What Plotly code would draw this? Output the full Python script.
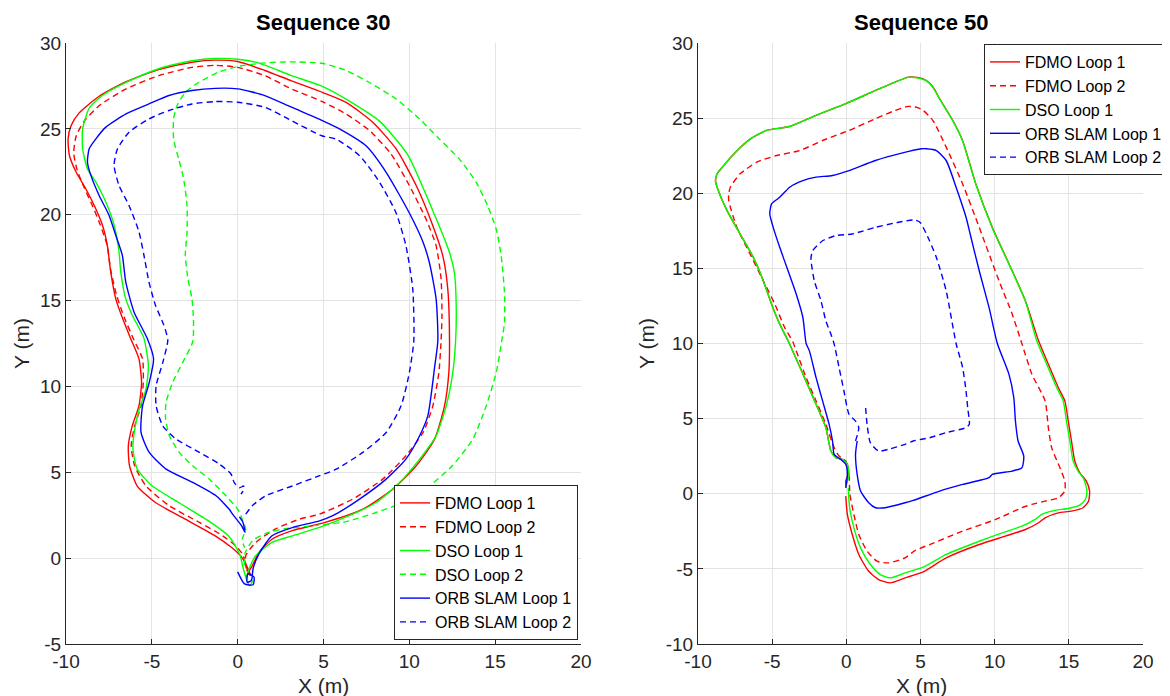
import plotly.graph_objects as go

# ---------------- Sequence 30 ----------------
s30_fdmo1_x = [0.6, 0.85, 1.24, 2.0, 3.18, 5.0, 7.29, 9.04, 10.4, 11.47, 12.05, 12.3, 12.34, 12.24, 11.95, 11.37, 10.4, 9.23, 7.87, 6.32, 5.0, 3.13, 1.58, 0.0, -1.3, -2.66, -4.6, -6.5, -8.07, -9.23, -9.7, -9.88, -9.8, -9.42, -8.84, -8.36, -7.88, -7.59, -7.4, -7.1, -6.7, -6.24, -5.75, -5.6, -5.75, -6.14, -6.37, -6.3, -5.85, -4.79, -3.05, -1.31, -0.35, 0.2, 0.5, 0.75, 0.6]
s30_fdmo1_y = [-0.9, -0.45, 0.33, 1.1, 1.6, 2.05, 2.85, 4.02, 5.38, 6.93, 8.87, 10.8, 12.76, 15.67, 17.6, 19.36, 21.7, 23.83, 25.38, 26.54, 27.1, 27.8, 28.4, 28.92, 29.0, 28.88, 28.45, 27.75, 26.9, 25.93, 25.2, 24.4, 23.45, 22.5, 21.5, 20.55, 19.4, 18.2, 16.7, 15.1, 13.95, 12.8, 11.6, 10.23, 8.87, 7.7, 6.54, 5.38, 4.2, 3.24, 2.27, 1.3, 0.62, 0.1, -0.4, -1.0, -0.9]

s30_fdmo2_x = [0.7, 0.5, 0.47, 1.05, 2.2, 3.6, 4.77, 6.7, 8.45, 9.8, 10.8, 11.37, 11.72, 11.85, 11.9, 11.85, 11.56, 10.97, 10.0, 8.94, 7.68, 6.32, 4.9, 3.13, 1.58, 0.0, -1.3, -2.66, -4.6, -6.5, -8.0, -8.9, -9.4, -9.55, -9.35, -8.95, -8.45, -8.0, -7.6, -7.4, -7.05, -6.6, -6.04, -5.54, -5.5, -5.63, -6.0, -6.2, -6.0, -5.34, -3.98, -2.23, -0.87, -0.12, 0.3, 0.5, 0.7]
s30_fdmo2_y = [-1.0, -0.6, 0.14, 0.91, 1.7, 2.27, 2.56, 3.44, 4.6, 5.96, 7.32, 8.87, 10.8, 12.66, 14.1, 16.25, 18.2, 19.75, 21.7, 23.53, 24.9, 25.86, 26.6, 27.33, 28.1, 28.58, 28.7, 28.58, 28.1, 27.33, 26.4, 25.5, 24.6, 23.6, 22.6, 21.6, 20.5, 19.4, 18.2, 16.8, 15.3, 14.0, 12.7, 11.6, 10.23, 8.87, 7.7, 6.54, 5.38, 4.2, 3.05, 2.08, 1.3, 0.72, 0.2, -0.5, -1.0]

s30_dso1_x = [0.9, 0.7, 0.5, 0.66, 1.05, 2.0, 3.18, 4.77, 6.5, 8.07, 9.43, 10.6, 11.56, 12.15, 12.53, 12.7, 12.73, 12.63, 12.34, 11.17, 9.9, 8.26, 6.7, 5.0, 3.13, 1.2, 0.0, -1.3, -2.66, -4.6, -6.5, -7.88, -8.65, -9.03, -9.03, -8.75, -8.26, -7.68, -7.2, -6.91, -6.81, -6.52, -6.14, -5.46, -5.2, -5.34, -5.73, -6.0, -6.1, -5.85, -4.97, -3.44, -1.7, -0.54, -0.14, 0.15, 0.3, 0.5]
s30_dso1_y = [-1.3, -1.6, -1.2, -0.64, 0.14, 0.92, 1.3, 1.79, 2.47, 3.24, 4.4, 5.77, 7.13, 8.87, 10.8, 12.76, 14.7, 16.6, 17.8, 20.7, 23.5, 25.45, 26.5, 27.45, 28.1, 28.84, 29.05, 29.1, 28.97, 28.5, 27.7, 26.94, 26.2, 25.0, 23.84, 22.67, 21.9, 20.74, 19.4, 17.83, 16.67, 15.1, 14.15, 12.8, 11.2, 9.84, 8.68, 7.5, 6.35, 5.18, 4.2, 3.24, 2.17, 1.3, 0.72, 0.14, -0.5, -1.2]

s30_dso2_x = [0.4, 0.43, 0.9, 1.8, 2.64, 4.0, 6.2, 8.07, 9.62, 11.17, 12.5, 13.7, 14.48, 15.06, 15.4, 15.54, 15.54, 15.35, 15.06, 14.57, 13.9, 12.92, 11.76, 10.6, 9.23, 7.68, 6.32, 4.9, 3.13, 1.58, 0.04, -1.12, -2.28, -3.05, -3.53, -3.73, -3.73, -3.44, -3.15, -2.95, -2.95, -3.05, -2.9, -2.66, -2.57, -2.62, -3.2, -3.79, -4.17, -4.2, -3.98, -3.4, -2.62, -1.65, -0.68, 0.0, 0.27, 0.47, 0.27, 0.4]
s30_dso2_y = [-0.4, 0.3, 1.05, 1.5, 1.7, 1.85, 2.1, 2.66, 3.24, 4.2, 5.38, 6.93, 8.87, 10.8, 12.76, 13.7, 15.48, 17.6, 19.16, 20.5, 21.88, 23.24, 24.4, 25.57, 26.74, 27.7, 28.4, 28.82, 28.9, 28.84, 28.64, 28.3, 27.7, 27.13, 26.36, 25.6, 24.4, 23.26, 22.1, 20.54, 19.0, 17.64, 16.28, 15.1, 13.76, 12.6, 11.4, 10.23, 9.07, 8.1, 7.13, 6.16, 5.38, 4.6, 3.63, 2.85, 2.27, 1.69, 1.1, 0.6]

s30_orb1_x = [0.0, 0.4, 0.9, 0.95, 0.6, 0.55, 0.8, 0.9, 1.24, 2.0, 3.18, 4.77, 5.54, 7.1, 8.65, 9.8, 10.6, 11.08, 11.47, 11.66, 11.56, 11.17, 10.8, 10.0, 8.65, 7.49, 5.93, 4.9, 3.13, 1.58, 0.0, -1.3, -2.66, -4.0, -5.17, -6.5, -7.68, -8.26, -8.65, -8.75, -8.55, -8.07, -7.49, -7.1, -6.72, -6.52, -6.04, -5.27, -4.9, -5.15, -5.54, -5.63, -5.15, -4.17, -2.62, -1.26, -0.49, -0.3, 0.23, 0.43, 0.3, 0.1]
s30_orb1_y = [-0.8, -1.5, -1.55, -1.1, -0.9, -1.4, -1.3, -0.6, 0.25, 1.3, 1.78, 2.17, 2.47, 3.44, 4.6, 5.77, 7.13, 8.3, 11.1, 12.66, 15.1, 17.2, 18.4, 20.1, 22.47, 24.0, 25.0, 25.5, 26.26, 26.94, 27.33, 27.36, 27.23, 26.94, 26.45, 25.87, 25.1, 24.42, 23.84, 23.06, 22.29, 21.12, 19.96, 18.8, 17.64, 16.09, 14.34, 12.8, 11.6, 10.23, 8.87, 7.32, 6.16, 5.18, 4.41, 3.63, 2.85, 2.56, 1.88, 1.5, 2.1, 2.4]

s30_orb2_x = [0.47, 0.85, 1.63, 3.18, 4.77, 5.74, 7.29, 8.65, 9.52, 10.0, 10.26, 10.2, 9.8, 9.23, 8.26, 7.1, 5.74, 4.9, 3.13, 1.58, 0.0, -1.3, -2.66, -4.0, -5.17, -6.33, -7.0, -7.2, -6.91, -6.33, -5.75, -5.46, -5.17, -4.79, -4.3, -4.07, -4.36, -4.75, -4.75, -4.36, -3.59, -2.23, -1.07, -0.39, -0.2, 0.1, 0.35, 0.3, 0.19]
s30_orb2_y = [2.56, 3.05, 3.63, 4.2, 4.8, 5.18, 6.16, 7.32, 8.87, 10.8, 12.66, 15.67, 18.2, 20.1, 21.9, 23.44, 24.4, 24.6, 25.48, 26.26, 26.55, 26.59, 26.45, 26.07, 25.58, 24.8, 23.84, 22.87, 21.7, 20.54, 19.0, 17.64, 16.09, 14.73, 13.57, 12.7, 11.4, 10.04, 8.87, 7.7, 6.93, 6.16, 5.48, 4.9, 4.4, 4.1, 4.2, 3.9, 3.73]

# ---------------- Sequence 50 ----------------
s50_fdmo1_x = [0.0, -0.04, 0.13, 0.07, -0.27, -0.71, -1.04, -1.38, -2.04, -2.82, -3.93, -4.49, -5.04, -5.6, -6.27, -7.16, -8.04, -8.71, -8.82, -8.71, -8.27, -7.6, -6.49, -5.38, -3.82, -2.04, -0.04, 1.96, 3.29, 4.18, 4.8, 5.4, 5.84, 6.29, 7.18, 7.84, 8.73, 9.84, 11.18, 12.07, 12.96, 13.62, 14.29, 14.73, 14.96, 15.18, 15.4, 15.73, 16.18, 16.4, 16.33, 15.96, 15.18, 14.29, 13.4, 12.96, 12.07, 10.73, 8.96, 6.73, 5.18, 3.96, 2.96, 2.18, 1.51, 0.84, 0.4, 0.07, -0.04]
s50_fdmo1_y = [0.4, 0.84, 1.29, 1.96, 2.29, 2.4, 2.84, 4.4, 5.96, 7.73, 10.18, 11.29, 12.62, 14.18, 15.73, 17.29, 18.84, 20.4, 20.84, 21.3, 21.84, 22.6, 23.6, 24.18, 24.44, 25.18, 25.96, 26.84, 27.4, 27.73, 27.7, 27.5, 27.07, 26.29, 24.84, 23.5, 20.62, 17.73, 14.84, 12.84, 10.18, 8.62, 7.07, 6.18, 4.84, 3.51, 2.18, 1.4, 0.84, 0.18, -0.49, -0.93, -1.16, -1.27, -1.6, -1.93, -2.38, -2.82, -3.38, -4.27, -5.2, -5.6, -5.93, -5.71, -5.16, -4.04, -2.71, -1.38, -0.16]

s50_fdmo2_x = [0.24, 0.18, -0.04, -0.49, -0.82, -1.38, -2.04, -2.71, -3.38, -3.6, -4.16, -4.82, -5.6, -6.49, -7.38, -7.93, -7.93, -7.82, -7.16, -6.04, -4.71, -3.16, -1.6, 0.18, 1.96, 3.29, 4.18, 4.8, 5.18, 5.84, 6.73, 7.84, 8.96, 10.29, 11.18, 11.8, 12.51, 13.4, 13.62, 13.84, 14.4, 14.73, 14.73, 14.29, 13.4, 12.51, 11.84, 10.07, 7.84, 5.62, 4.6, 3.96, 2.84, 2.07, 1.4, 0.84, 0.51, 0.24]
s50_fdmo2_y = [-0.04, 1.29, 2.18, 2.51, 3.07, 4.62, 6.18, 7.73, 9.51, 10.1, 11.07, 12.62, 14.18, 15.96, 17.73, 19.51, 19.96, 20.4, 21.29, 22.07, 22.51, 22.84, 23.51, 24.18, 24.96, 25.51, 25.78, 25.7, 25.51, 24.84, 23.07, 20.62, 17.73, 14.18, 11.96, 10.1, 7.96, 6.18, 4.4, 3.07, 1.73, 0.84, 0.18, -0.27, -0.49, -0.71, -0.93, -1.71, -2.49, -3.38, -3.8, -4.27, -4.6, -4.49, -3.82, -2.71, -1.38, -0.04]

s50_dso1_x = [-0.04, 0.07, 0.18, 0.07, -0.27, -0.71, -1.04, -1.38, -2.04, -2.82, -3.93, -4.49, -5.04, -5.6, -6.27, -7.16, -8.04, -8.71, -8.82, -8.71, -8.27, -7.6, -6.49, -5.38, -3.82, -2.04, -0.04, 1.96, 3.29, 4.18, 4.8, 5.4, 5.84, 6.29, 7.18, 7.84, 8.73, 9.84, 11.18, 12.07, 12.84, 13.51, 14.18, 14.62, 14.84, 15.07, 15.29, 15.62, 16.02, 16.22, 16.11, 15.73, 14.96, 14.07, 13.18, 12.73, 11.84, 10.51, 8.96, 6.73, 5.18, 3.96, 2.96, 2.29, 1.62, 0.96, 0.51, 0.22, 0.13]
s50_dso1_y = [0.4, 0.84, 1.29, 1.96, 2.29, 2.4, 2.84, 4.4, 5.96, 7.73, 10.18, 11.29, 12.62, 14.18, 15.73, 17.29, 18.84, 20.4, 20.84, 21.3, 21.84, 22.6, 23.6, 24.18, 24.44, 25.18, 25.96, 26.84, 27.4, 27.71, 27.68, 27.48, 27.05, 26.27, 24.82, 23.48, 20.6, 17.71, 14.82, 12.82, 10.18, 8.62, 7.07, 6.18, 4.84, 3.51, 2.18, 1.51, 0.96, 0.18, -0.38, -0.76, -0.98, -1.11, -1.38, -1.71, -2.16, -2.6, -3.16, -4.04, -4.89, -5.27, -5.6, -5.38, -4.71, -3.6, -2.27, -0.93, 0.4]

s50_orb1_x = [-0.04, 0.07, -0.04, -0.38, -0.82, -0.93, -1.16, -1.6, -2.04, -2.49, -2.71, -2.93, -3.38, -3.93, -4.49, -4.93, -5.16, -5.04, -4.49, -3.82, -2.93, -2.04, -0.93, 0.18, 1.96, 3.73, 5.07, 5.4, 6.07, 6.73, 7.4, 8.07, 8.4, 8.96, 9.62, 10.18, 10.96, 11.29, 11.4, 11.58, 11.96, 11.84, 11.18, 9.84, 9.62, 7.84, 6.29, 4.51, 3.96, 2.62, 1.96, 1.51, 0.96, 0.73, 0.62, 0.73]
s50_orb1_y = [0.4, 1.29, 1.96, 2.29, 2.62, 3.51, 4.62, 6.18, 7.73, 9.51, 10.0, 11.73, 13.29, 14.84, 16.4, 17.73, 18.62, 19.29, 19.73, 20.4, 20.84, 21.07, 21.18, 21.51, 22.18, 22.67, 22.96, 22.96, 22.84, 22.18, 20.4, 18.4, 17.07, 14.84, 12.4, 10.0, 7.96, 6.4, 4.84, 3.51, 2.51, 1.73, 1.51, 1.29, 1.07, 0.62, 0.18, -0.44, -0.6, -0.93, -0.93, -0.6, 0.18, 1.29, 2.62, 3.51]

s50_orb2_x = [0.62, 0.84, 0.62, 0.18, -0.16, -0.49, -0.82, -1.04, -1.38, -1.71, -2.16, -2.38, -2.38, -2.27, -1.6, -0.71, 0.4, 1.96, 3.51, 4.62, 4.96, 5.4, 6.07, 6.73, 7.4, 7.84, 8.07, 8.18, 8.29, 8.07, 6.73, 5.62, 4.51, 3.96, 2.84, 2.18, 1.62, 1.4, 1.29]
s50_orb2_y = [3.51, 4.4, 4.84, 5.29, 6.84, 8.4, 9.96, 10.62, 11.51, 12.84, 14.18, 15.5, 15.73, 16.18, 16.84, 17.18, 17.29, 17.73, 18.07, 18.22, 18.07, 17.29, 15.73, 13.51, 10.0, 8.4, 6.84, 5.73, 4.62, 4.4, 4.07, 3.73, 3.51, 3.29, 2.96, 2.84, 3.4, 4.62, 5.84]

# axis ticks
x_tick_vals = [-10, -5, 0, 5, 10, 15, 20]
x_tick_text = ["-10", "-5", "0", "5", "10", "15", "20"]
y30_tick_vals = [-5, 0, 5, 10, 15, 20, 25, 30]
y30_tick_text = ["-5", "0", "5", "10", "15", "20", "25", "30"]
y50_tick_vals = [-10, -5, 0, 5, 10, 15, 20, 25, 30]
y50_tick_text = ["-10", "-5", "0", "5", "10", "15", "20", "25", "30"]

RED, GREEN, BLUE = "#ff0000", "#00ff00", "#0000ff"
DASH = "6px,4px"

fig = go.Figure()

def add(x, y, name, color, dash, xa, ya, legend):
    fig.add_trace(go.Scatter(
        x=x, y=y, mode="lines", name=name,
        line=dict(color=color, width=1.4, dash=dash, shape="spline", smoothing=0.6),
        xaxis=xa, yaxis=ya, legend=legend))

add(s30_fdmo1_x, s30_fdmo1_y, "FDMO Loop 1", RED, "solid", "x", "y", "legend")
add(s30_fdmo2_x, s30_fdmo2_y, "FDMO Loop 2", RED, DASH, "x", "y", "legend")
add(s30_dso1_x, s30_dso1_y, "DSO Loop 1", GREEN, "solid", "x", "y", "legend")
add(s30_dso2_x, s30_dso2_y, "DSO Loop 2", GREEN, DASH, "x", "y", "legend")
add(s30_orb1_x, s30_orb1_y, "ORB SLAM Loop 1", BLUE, "solid", "x", "y", "legend")
add(s30_orb2_x, s30_orb2_y, "ORB SLAM Loop 2", BLUE, DASH, "x", "y", "legend")

add(s50_fdmo1_x, s50_fdmo1_y, "FDMO Loop 1", RED, "solid", "x2", "y2", "legend2")
add(s50_fdmo2_x, s50_fdmo2_y, "FDMO Loop 2", RED, DASH, "x2", "y2", "legend2")
add(s50_dso1_x, s50_dso1_y, "DSO Loop 1", GREEN, "solid", "x2", "y2", "legend2")
add(s50_orb1_x, s50_orb1_y, "ORB SLAM Loop 1", BLUE, "solid", "x2", "y2", "legend2")
add(s50_orb2_x, s50_orb2_y, "ORB SLAM Loop 2", BLUE, DASH, "x2", "y2", "legend2")

# The page body adds an 8px offset; figure is sized to fill the rest of the window.
OFF = 8
W, H = 1170 - OFF, 696 - OFF
FONT = "Liberation Sans, Arial, Helvetica, sans-serif"
AXC = "#262626"
GRID = "#e3e3e3"

def px(v):
    return (v - OFF) / W

def py(v):
    return 1 - (v - OFF) / H

def xaxis(left, right, anchor):
    return dict(domain=[px(left), px(right)], range=[-10, 20], tickvals=x_tick_vals,
                ticktext=x_tick_text, anchor=anchor, automargin=False,
                ticks="inside", ticklen=5, tickcolor=AXC, showline=True, linecolor=AXC,
                linewidth=1, showgrid=True, gridcolor=GRID, gridwidth=1, zeroline=False,
                tickfont=dict(size=19, color=AXC, family=FONT), fixedrange=True)

def yaxis(anchor, rng, tv, tt):
    return dict(domain=[py(644), py(43)], range=rng, tickvals=tv, ticktext=tt,
                anchor=anchor, automargin=False, ticks="inside", ticklen=5, tickcolor=AXC,
                showline=True, linecolor=AXC, linewidth=1, showgrid=True, gridcolor=GRID,
                gridwidth=1, zeroline=False, tickfont=dict(size=19, color=AXC, family=FONT),
                fixedrange=True)

legend_common = dict(bgcolor="white", bordercolor=AXC, borderwidth=1,
                     font=dict(size=16, family=FONT, color="black"),
                     tracegroupgap=0, itemclick=False)

def label(text, x, y, size, angle=0, color="black"):
    return dict(text=text, x=px(x), y=py(y), xref="paper", yref="paper",
                xanchor="center", yanchor="middle", textangle=angle, showarrow=False,
                font=dict(size=size, family=FONT, color=color))

fig.update_layout(
    width=W, height=H, margin=dict(l=0, r=0, t=0, b=0, autoexpand=False),
    paper_bgcolor="white", plot_bgcolor="white",
    xaxis=xaxis(66, 581, "y"),
    yaxis=yaxis("x", [-5, 30], y30_tick_vals, y30_tick_text),
    xaxis2=xaxis(698, 1143, "y2"),
    yaxis2=yaxis("x2", [-10, 30], y50_tick_vals, y50_tick_text),
    legend=dict(legend_common, x=px(578), y=py(640), xanchor="right", yanchor="bottom"),
    legend2=dict(legend_common, x=px(1168), y=py(44), xanchor="right", yanchor="top"),
    showlegend=True,
    annotations=[
        label("<b>Sequence 30</b>", 323, 22, 22),
        label("<b>Sequence 50</b>", 921, 22, 22),
        label("X (m)", 323, 685, 21, color=AXC),
        label("X (m)", 921, 685, 21, color=AXC),
        label("Y (m)", 21, 344, 21, angle=-90, color=AXC),
        label("Y (m)", 646, 344, 21, angle=-90, color=AXC),
    ],
)

fig.write_html("out.html")
